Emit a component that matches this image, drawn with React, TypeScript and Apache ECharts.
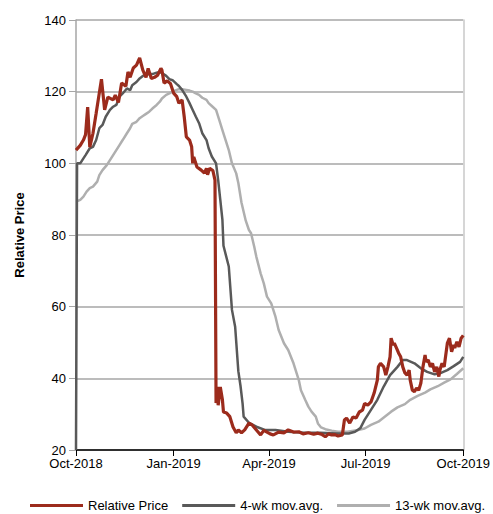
import React, { useEffect, useRef } from "react";
import * as echarts from "echarts";

// Days since 2018-10-01 and values
const startDate = Date.UTC(2018, 9, 1);

const priceDays = [0, 4, 7, 9, 11, 13, 16, 19, 24, 27, 30, 35, 37, 40, 43, 47, 49, 51, 54, 57, 60, 63, 66, 68, 71, 74, 77, 80, 81, 83, 86, 89, 92, 95, 97, 100, 102, 104, 107, 109, 110, 111, 114, 118, 121, 123, 124, 126, 129, 131, 132, 133, 134, 136, 138, 139, 142, 145, 148, 151, 153, 156, 159, 163, 166, 170, 174, 177, 180, 183, 186, 191, 196, 200, 205, 210, 214, 219, 224, 228, 232, 235, 238, 241, 244, 247, 251, 253, 255, 258, 261, 264, 267, 270, 272, 275, 278, 281, 284, 285, 287, 290, 292, 294, 296, 297, 299, 300, 302, 304, 306, 308, 310, 312, 314, 315, 317, 319, 321, 323, 325, 327, 329, 330, 332, 334, 336, 338, 340, 342, 343, 345, 347, 350, 352, 354, 356, 357, 359, 361, 363, 365];
const priceValues = [103.7, 105, 106.5, 108, 115.7, 104.5, 108.4, 114, 123.5, 114.9, 118.5, 117.7, 119, 117, 122.4, 121.5, 125.5, 124, 126.6, 127.4, 129.4, 126, 124, 126.5, 123.7, 124, 124.6, 126.5, 126, 122.4, 123, 122.3, 119.6, 118.6, 116.8, 117.7, 113, 107.4, 106.5, 104.6, 100, 101.8, 99, 98.1, 97.3, 98.6, 96.8, 98.6, 98, 95.3, 33.1, 37.6, 32.5, 37.6, 34, 30.6, 30.3, 29.3, 26.4, 24.8, 25.6, 24.8, 25.6, 27.5, 27, 25.6, 24.2, 25.5, 25, 24.5, 24.2, 25, 24.8, 25.6, 25, 25.1, 24.5, 24.8, 24.4, 24.7, 24.3, 23.7, 24.5, 24.2, 24.3, 23.9, 24.2, 28.4, 28.9, 27.5, 29.2, 28.9, 30.6, 31.1, 33, 32.5, 33.4, 35.9, 39.5, 43.2, 44.2, 43.2, 40.9, 43.2, 46, 51.2, 49.3, 49.8, 48.5, 47.1, 46, 43.2, 41.5, 40.9, 42.3, 39.5, 36.7, 36.3, 37.3, 36.7, 38.6, 43.2, 46.5, 44.6, 45.1, 43.2, 44.2, 41.8, 43.2, 40.5, 42.3, 44.2, 43.2, 49.8, 51.2, 47.4, 49.3, 48.5, 50.2, 48.8, 51.2, 52];

const ma4Days = [0, 1, 4, 7, 9, 13, 16, 19, 22, 25, 28, 32, 35, 38, 41, 44, 48, 51, 53, 57, 60, 63, 66, 69, 72, 76, 79, 81, 85, 88, 91, 95, 97, 100, 104, 107, 110, 113, 116, 119, 123, 125, 128, 132, 134, 136, 138, 139, 144, 147, 150, 153, 155, 157, 158, 163, 170, 178, 188, 200, 215, 230, 247, 257, 263, 268, 272, 278, 284, 290, 296, 303, 308, 312, 319, 325, 331, 338, 343, 350, 356, 362, 365];
const ma4Values = [20, 100, 100, 101.4, 102.3, 104.2, 104.6, 106.5, 109.8, 110.7, 113, 114.9, 115.8, 116.3, 118.6, 119.5, 120.9, 120.4, 121.8, 122.7, 123.7, 124.4, 124.7, 124.9, 124.9, 125.3, 125.5, 125.2, 124.4, 123.5, 123.2, 122.1, 121.6, 120.5, 118.6, 116.8, 114.9, 113, 111.2, 108.4, 106.5, 104.2, 101.9, 100, 95.3, 89.8, 84.2, 77, 71.2, 59.1, 54.4, 42, 38, 33, 29.3, 27.6, 26.5, 25.6, 25.6, 25.1, 24.8, 24.8, 24.6, 24.6, 25.1, 26.1, 28.4, 31.2, 34, 37.7, 40.9, 43.2, 45.1, 45.1, 44.2, 42.8, 41.8, 41.1, 41.4, 42.3, 43.4, 44.6, 46];

const ma13Days = [0, 4, 7, 10, 13, 16, 20, 22, 25, 29, 32, 35, 38, 41, 44, 48, 51, 53, 57, 60, 63, 66, 69, 72, 76, 79, 81, 85, 88, 91, 95, 97, 100, 104, 107, 110, 113, 116, 119, 123, 125, 128, 132, 135, 138, 141, 144, 147, 151, 153, 156, 160, 163, 165, 168, 170, 174, 177, 180, 184, 188, 191, 196, 200, 205, 210, 212, 216, 219, 222, 226, 228, 231, 235, 241, 247, 256, 266, 272, 278, 285, 291, 297, 303, 310, 315, 322, 329, 334, 341, 347, 353, 359, 365];
const ma13Values = [89.3, 89.8, 90.7, 92.1, 93.1, 93.5, 94.9, 96.7, 98.1, 99.5, 100.9, 102.3, 103.7, 105.1, 106.5, 108.4, 109.8, 111, 111.6, 112.6, 113.2, 113.8, 114.4, 115.3, 116.3, 117.2, 118.1, 119.1, 119.5, 120, 120.5, 120.7, 120.7, 120.5, 120.3, 120, 119.5, 119.1, 118.3, 117.7, 116.8, 116, 114.9, 112.1, 109.3, 106.5, 103.7, 100, 97.2, 94.5, 89, 84, 81.4, 80.5, 76.7, 73.9, 69.3, 66.5, 62.8, 60.9, 57.2, 53.5, 49.8, 47.9, 44.2, 39.5, 36.7, 34, 32.1, 30.7, 29.3, 27.4, 26.3, 25.8, 25.4, 25.1, 25.1, 25.6, 26, 27, 27.9, 29.3, 30.7, 31.9, 32.8, 34, 35.1, 36, 36.9, 37.8, 38.8, 39.7, 41.2, 42.8];

const tickDays = [0, 92, 182, 273, 365];
const tickLabels = ["Oct-2018", "Jan-2019", "Apr-2019", "Jul-2019", "Oct-2019"];

const seriesNames = ["Relative Price", "4-wk mov.avg.", "13-wk mov.avg."];
const seriesColors = ["#9C2B1C", "#595959", "#AFAFAF"];

const DAY = 86400000;
const toTs = (d: number) => startDate + d * DAY;
const zip = (days: number[], vals: number[]) => days.map((d, i) => [toTs(d), vals[i]]);

const FONT = "'Liberation Sans', Arial, Helvetica, sans-serif";

export default function App() {
  const ref = useRef<HTMLDivElement>(null);
  useEffect(() => {
    if (!ref.current) return;
    const chart = echarts.init(ref.current, undefined, { renderer: "svg" });
    const tickTs = tickDays.map(toTs);
    const labelFor = (v: number) => {
      const i = tickTs.indexOf(v);
      return i >= 0 ? tickLabels[i] : "";
    };
    chart.setOption({
      animation: false,
      textStyle: { fontFamily: FONT },
      grid: { left: 76, right: 27, top: 20, bottom: 64, containLabel: false },
      legend: {
        left: 30,
        top: 499,
        padding: 0,
        icon: "rect",
        itemWidth: 53,
        itemHeight: 3,
        itemGap: 14,
        data: seriesNames,
        textStyle: { fontFamily: FONT, fontSize: 13, color: "#000" },
      },
      xAxis: {
        type: "value",
        min: tickTs[0],
        max: tickTs[tickTs.length - 1],
        axisLine: { show: true, lineStyle: { color: "#000", width: 1.5 } },
        axisTick: { show: true, length: 6, lineStyle: { color: "#000" }, customValues: tickTs },
        axisLabel: {
          customValues: tickTs,
          formatter: labelFor,
          fontFamily: FONT,
          fontSize: 13,
          lineHeight: 13,
          color: "#000",
          margin: 7,
          showMinLabel: true,
          showMaxLabel: true,
        },
        splitLine: { show: false },
      },
      yAxis: [
        {
          type: "value",
          min: 20,
          max: 140,
          interval: 20,
          name: "Relative Price",
          nameLocation: "middle",
          nameGap: 50,
          nameTextStyle: { fontFamily: FONT, fontSize: 13, fontWeight: "bold", color: "#000" },
          axisLine: { show: true, lineStyle: { color: "#A6A6A6", width: 1.5 } },
          axisTick: { show: true, length: 7, lineStyle: { color: "#A6A6A6" } },
          axisLabel: { fontFamily: FONT, fontSize: 13, lineHeight: 13, color: "#000", margin: 10 },
          splitLine: { show: true, lineStyle: { color: "#A6A6A6", width: 1.5 } },
        },
        {
          type: "value",
          min: 20,
          max: 140,
          interval: 20,
          position: "right",
          axisLine: { show: true, lineStyle: { color: "#C8C8C8", width: 1.5 } },
          axisTick: { show: false },
          axisLabel: { show: false },
          splitLine: { show: false },
        },
      ],
      series: [
        {
          name: seriesNames[0],
          type: "line",
          data: zip(priceDays, priceValues),
          symbol: "none",
          z: 5,
          lineStyle: { color: seriesColors[0], width: 3.2 },
          itemStyle: { color: seriesColors[0] },
        },
        {
          name: seriesNames[1],
          type: "line",
          data: zip(ma4Days, ma4Values),
          symbol: "none",
          z: 4,
          lineStyle: { color: seriesColors[1], width: 2.5 },
          itemStyle: { color: seriesColors[1] },
        },
        {
          name: seriesNames[2],
          type: "line",
          data: zip(ma13Days, ma13Values),
          symbol: "none",
          z: 3,
          lineStyle: { color: seriesColors[2], width: 2.5 },
          itemStyle: { color: seriesColors[2] },
        },
      ],
    });
    return () => chart.dispose();
  }, []);
  return (
    <div
      ref={ref}
      style={{ position: "absolute", left: 0, top: 0, width: 493, height: 514 }}
    />
  );
}
